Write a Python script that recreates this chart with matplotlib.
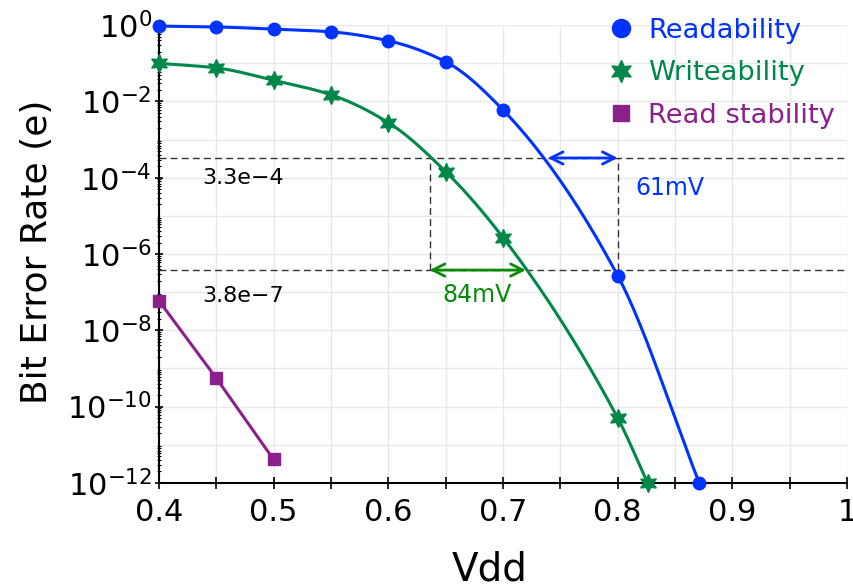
import numpy as np
import matplotlib
matplotlib.use("Agg")
import matplotlib.pyplot as plt
from matplotlib.ticker import LogLocator, MultipleLocator, FixedLocator, NullFormatter

# data
vdd_read = [0.40, 0.45, 0.50, 0.55, 0.60, 0.65, 0.70, 0.80, 0.871]
ber_read = [0.95, 0.90, 0.79, 0.67, 0.39, 0.11, 6.0e-3, 2.7e-7, 1.0e-12]

vdd_write = [0.40, 0.45, 0.50, 0.55, 0.60, 0.65, 0.70, 0.80, 0.826]
ber_write = [0.10, 0.076, 0.036, 0.015, 2.8e-3, 1.45e-4, 2.7e-6, 5.0e-11, 1.0e-12]

vdd_stab = [0.40, 0.45, 0.50]
ber_stab = [6.0e-8, 5.6e-10, 4.1e-12]

ber_hi = 3.3e-4
ber_lo = 3.8e-7
vdd_write_lo, vdd_write_hi = 0.636, 0.720   # 84mV
vdd_read_lo, vdd_read_hi = 0.739, 0.800     # 61mV

BLUE = "#0033ff"
GREEN = "#00884a"
PURPLE = "#8b1f8b"
ARROW_GREEN = "#0a8a0a"


def pchip_log(x, y, n=200):
    # smooth monotone curve through the points, in log10 space
    x = np.asarray(x, float)
    ly = np.log10(np.asarray(y, float))
    h = np.diff(x)
    d = np.diff(ly) / h
    m = np.zeros_like(x)
    for k in range(1, len(x) - 1):
        if d[k - 1] * d[k] > 0:
            w1 = 2 * h[k] + h[k - 1]
            w2 = h[k] + 2 * h[k - 1]
            m[k] = (w1 + w2) / (w1 / d[k - 1] + w2 / d[k])
    m[0] = d[0]
    m[-1] = d[-1]
    xs, ys = [], []
    for k in range(len(x) - 1):
        t = np.linspace(0, 1, n // len(h) + 2)
        h00 = 2 * t**3 - 3 * t**2 + 1
        h10 = t**3 - 2 * t**2 + t
        h01 = -2 * t**3 + 3 * t**2
        h11 = t**3 - t**2
        seg = h00 * ly[k] + h10 * h[k] * m[k] + h01 * ly[k + 1] + h11 * h[k] * m[k + 1]
        xs.append(x[k] + t * h[k])
        ys.append(seg)
    return np.concatenate(xs), 10 ** np.concatenate(ys)


fig = plt.figure(figsize=(8.54, 5.86), dpi=100)
ax = fig.add_axes([0.186, 0.176, 0.806, 0.781])

# curves
xs, ys = pchip_log(vdd_read, ber_read)
ax.plot(xs, ys, color=BLUE, lw=2.2, zorder=4, clip_on=False)
ax.plot(vdd_read, ber_read, "o", color=BLUE, ms=9, zorder=5, clip_on=False,
        label="Readability")

xs, ys = pchip_log(vdd_write, ber_write)
ax.plot(xs, ys, color=GREEN, lw=2.2, zorder=4, clip_on=False)
ax.plot(vdd_write, ber_write, ls="none", marker=(6, 1, 0), color=GREEN, ms=13,
        zorder=5, clip_on=False, label="Writeability")

ax.plot(vdd_stab, ber_stab, color=PURPLE, lw=2.2, zorder=4, clip_on=False)
ax.plot(vdd_stab, ber_stab, "s", color=PURPLE, ms=8.5, zorder=5, clip_on=False,
        label="Read stability")

# dashed guide lines
dash = dict(color="#333333", lw=1.0, ls=(0, (5, 3)), zorder=3)
ax.axhline(ber_hi, **dash)
ax.axhline(ber_lo, **dash)
ax.plot([vdd_write_lo, vdd_write_lo], [ber_lo, ber_hi], **dash)
ax.plot([vdd_read_hi, vdd_read_hi], [ber_lo, ber_hi], **dash)

# margin arrows
ax.annotate("", xy=(vdd_read_lo, ber_hi), xytext=(vdd_read_hi, ber_hi),
            arrowprops=dict(arrowstyle="<->", color=BLUE, lw=2,
                            mutation_scale=22, shrinkA=0, shrinkB=0), zorder=6)
ax.annotate("", xy=(vdd_write_lo, ber_lo), xytext=(vdd_write_hi, ber_lo),
            arrowprops=dict(arrowstyle="<->", color=ARROW_GREEN, lw=2,
                            mutation_scale=22, shrinkA=0, shrinkB=0), zorder=6)

ax.text(0.4375, 1.0e-4, "3.3e\u22124", fontsize=16, va="center", ha="left")
ax.text(0.4375, 8.0e-8, "3.8e\u22127", fontsize=16, va="center", ha="left")
ax.text(0.815, 5.4e-5, "61mV", fontsize=17, color=BLUE, va="center", ha="left")
ax.text(0.647, 8.5e-8, "84mV", fontsize=17, color=ARROW_GREEN, va="center", ha="left")

# axes
ax.set_yscale("log")
ax.set_xlim(0.4, 1.0)
ax.set_ylim(1e-12, 1.0)

ax.xaxis.set_major_locator(FixedLocator([0.4, 0.5, 0.6, 0.7, 0.8, 0.9, 1.0]))
ax.xaxis.set_major_formatter(plt.FuncFormatter(lambda v, p: "1" if abs(v - 1) < 1e-9 else f"{v:.1f}"))
ax.xaxis.set_minor_locator(MultipleLocator(0.05))
ax.yaxis.set_minor_locator(LogLocator(base=10, subs=np.arange(2, 10), numticks=20))
ax.yaxis.set_minor_formatter(NullFormatter())
ax.set_yticks([10.0**k for k in range(-12, 1, 2)])
ax.set_yticklabels([f"$10^{{{k}}}$" for k in range(-12, 1, 2)])

ax.grid(True, which="major", color="#e8e8e8", lw=1)
ax.grid(True, which="minor", axis="x", color="#e8e8e8", lw=1)
for k in range(-11, 0, 2):
    ax.axhline(10.0**k, color="#e8e8e8", lw=1, zorder=0)
ax.set_axisbelow(True)

for s in ("top", "right"):
    ax.spines[s].set_visible(False)
ax.spines["left"].set_linewidth(1.5)
ax.spines["bottom"].set_linewidth(1.5)

ax.tick_params(axis="x", which="both", direction="inout", length=8, width=1.2,
               labelsize=22, pad=7)
ax.tick_params(axis="y", which="major", direction="inout", length=6, width=1.2,
               labelsize=22, pad=2)
ax.tick_params(axis="y", which="minor", direction="inout", length=3, width=0.8)

ax.set_xlabel("Vdd", fontsize=28)
ax.xaxis.set_label_coords(0.481, -0.147)
ax.xaxis.label.set_va("top")
ax.set_ylabel("Bit Error Rate (e)", fontsize=26)
ax.yaxis.set_label_coords(-0.152, 0.504)

leg = ax.legend(loc="upper left", bbox_to_anchor=(0.635, 1.04), frameon=False,
                fontsize=19.7, handlelength=1.0, handletextpad=0.5,
                labelspacing=0.6, borderaxespad=0)
for text, c in zip(leg.get_texts(), [BLUE, GREEN, PURPLE]):
    text.set_color(c)
for handle, size in zip(leg.legend_handles, [13, 16, 12]):
    handle.set_markersize(size)

fig.savefig("out.png", dpi=100)
